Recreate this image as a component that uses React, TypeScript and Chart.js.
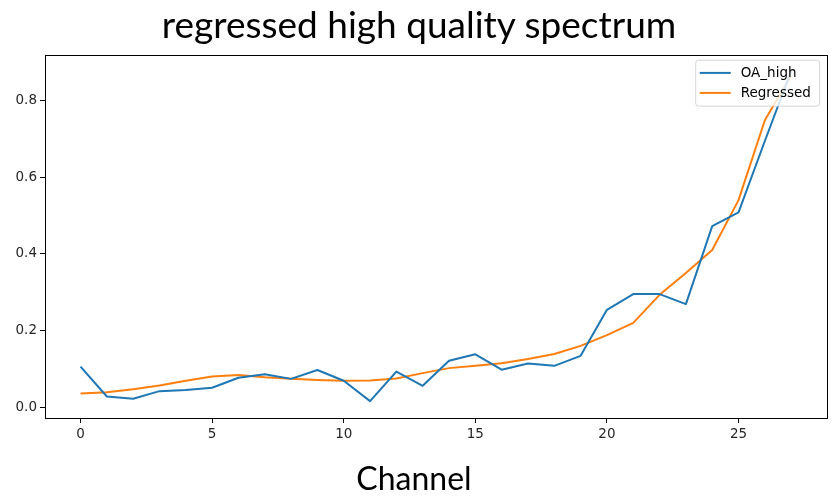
import React, { useEffect, useRef } from "react";
import { Chart, registerables } from "chart.js";

Chart.register(...registerables);

const channels = [0, 1, 2, 3, 4, 5, 6, 7, 8, 9, 10, 11, 12, 13, 14, 15, 16, 17, 18, 19, 20, 21, 22, 23, 24, 25, 26, 27];
const oaHigh = [0.106, 0.028, 0.022, 0.042, 0.045, 0.051, 0.077, 0.086, 0.074, 0.097, 0.069, 0.016, 0.093, 0.056, 0.121, 0.138, 0.098, 0.114, 0.108, 0.134, 0.254, 0.295, 0.295, 0.269, 0.472, 0.508, 0.694, 0.876];
const regressed = [0.036, 0.039, 0.047, 0.057, 0.069, 0.080, 0.084, 0.078, 0.074, 0.071, 0.069, 0.070, 0.075, 0.089, 0.102, 0.108, 0.115, 0.126, 0.139, 0.160, 0.188, 0.220, 0.293, 0.350, 0.410, 0.540, 0.748, 0.865];
const xTicks = [0, 5, 10, 15, 20, 25];
const yTicks = [0.0, 0.2, 0.4, 0.6, 0.8];
const seriesNames = ["OA_high", "Regressed"];
const seriesColors = ["#1f77b4", "#ff7f0e"];
const titleText = "regressed high quality spectrum";
const xTitle = "Channel";

const TICK_FONT = "DejaVu Sans";

const framePlugin = {
  id: "frame",
  afterDatasetsDraw(chart: any) {
    const { ctx, chartArea } = chart;
    ctx.save();
    ctx.strokeStyle = "#000";
    ctx.lineWidth = 1;
    ctx.strokeRect(
      Math.round(chartArea.left) + 0.5,
      Math.round(chartArea.top) + 0.5,
      Math.round(chartArea.right - chartArea.left),
      Math.round(chartArea.bottom - chartArea.top)
    );
    // legend
    const w = 124;
    const h = 46;
    const x = chartArea.right - 7 - w;
    const y = chartArea.top + 5.5;
    ctx.beginPath();
    const r = 3;
    ctx.moveTo(x + r, y);
    ctx.lineTo(x + w - r, y);
    ctx.quadraticCurveTo(x + w, y, x + w, y + r);
    ctx.lineTo(x + w, y + h - r);
    ctx.quadraticCurveTo(x + w, y + h, x + w - r, y + h);
    ctx.lineTo(x + r, y + h);
    ctx.quadraticCurveTo(x, y + h, x, y + h - r);
    ctx.lineTo(x, y + r);
    ctx.quadraticCurveTo(x, y, x + r, y);
    ctx.closePath();
    ctx.fillStyle = "rgba(255,255,255,0.8)";
    ctx.fill();
    ctx.strokeStyle = "rgba(204,204,204,0.8)";
    ctx.lineWidth = 1;
    ctx.stroke();
    ctx.font = `13.5px "${TICK_FONT}"`;
    ctx.textBaseline = "middle";
    ctx.textAlign = "left";
    chart.data.datasets.forEach((ds: any, i: number) => {
      const ly = y + 12.7 + i * 20;
      ctx.strokeStyle = ds.borderColor;
      ctx.lineWidth = 2;
      ctx.beginPath();
      ctx.moveTo(x + 4, ly);
      ctx.lineTo(x + 35, ly);
      ctx.stroke();
      ctx.fillStyle = "#000";
      ctx.fillText(ds.label, x + 45, ly + 0.5);
    });
    ctx.restore();
  },
};

export default function App() {
  const canvasRef = useRef<HTMLCanvasElement | null>(null);

  useEffect(() => {
    if (!canvasRef.current) return;
    const datasets = [oaHigh, regressed].map((vals, i) => ({
      label: seriesNames[i],
      data: channels.map((c, j) => ({ x: c, y: vals[j] })),
      borderColor: seriesColors[i],
      backgroundColor: seriesColors[i],
      borderWidth: 2,
      pointRadius: 0,
      tension: 0,
      borderJoinStyle: "round" as const,
      fill: false,
    }));
    const chart = new Chart(canvasRef.current, {
      type: "line",
      data: { datasets },
      plugins: [framePlugin],
      options: {
        animation: false,
        responsive: false,
        maintainAspectRatio: false,
        layout: { padding: { left: 0, right: 9.3, top: 54.7, bottom: 0 } },
        plugins: {
          legend: { display: false },
          tooltip: { enabled: false },
          title: { display: false },
        },
        scales: {
          x: {
            type: "linear",
            min: -1.35,
            max: 28.35,
            afterBuildTicks: (scale: any) => {
              scale.ticks = xTicks.map((v) => ({ value: v }));
            },
            afterFit: (scale: any) => {
              scale.height = 79;
            },
            ticks: {
              color: "#262626",
              font: { family: TICK_FONT, size: 13.5 },
              padding: 3,
              maxRotation: 0,
              autoSkip: false,
              callback: (v: any) => String(v),
            },
            grid: {
              display: true,
              drawOnChartArea: false,
              drawTicks: true,
              tickLength: 5,
              color: "#000",
            },
            border: { display: false },
          },
          y: {
            type: "linear",
            min: -0.028,
            max: 0.919,
            afterBuildTicks: (scale: any) => {
              scale.ticks = yTicks.map((v) => ({ value: v }));
            },
            afterFit: (scale: any) => {
              scale.width = 45;
            },
            ticks: {
              color: "#262626",
              font: { family: TICK_FONT, size: 13.5 },
              padding: 3,
              autoSkip: false,
              callback: (v: any) => Number(v).toFixed(1),
            },
            grid: {
              display: true,
              drawOnChartArea: false,
              drawTicks: true,
              tickLength: 5,
              color: "#000",
            },
            border: { display: false },
          },
        },
      },
    });
    return () => chart.destroy();
  }, []);

  return (
    <div style={{ position: "absolute", left: 0, top: 0, width: 836, height: 497, background: "#fff" }}>
      <canvas ref={canvasRef} width={836} height={497} style={{ display: "block", width: 836, height: 497 }} />
      <div
        style={{
          position: "absolute",
          left: 0,
          width: 838,
          top: 2,
          height: 44,
          lineHeight: "44px",
          textAlign: "center",
          fontFamily: "Lato",
          fontSize: 37,
          color: "#000",
          whiteSpace: "nowrap",
        }}
      >
        {titleText}
      </div>
      <div
        style={{
          position: "absolute",
          left: 0,
          width: 828,
          top: 459,
          height: 38,
          lineHeight: "38px",
          textAlign: "center",
          fontFamily: "Lato",
          fontSize: 32,
          color: "#000",
        }}
      >
        {xTitle}
      </div>
    </div>
  );
}
